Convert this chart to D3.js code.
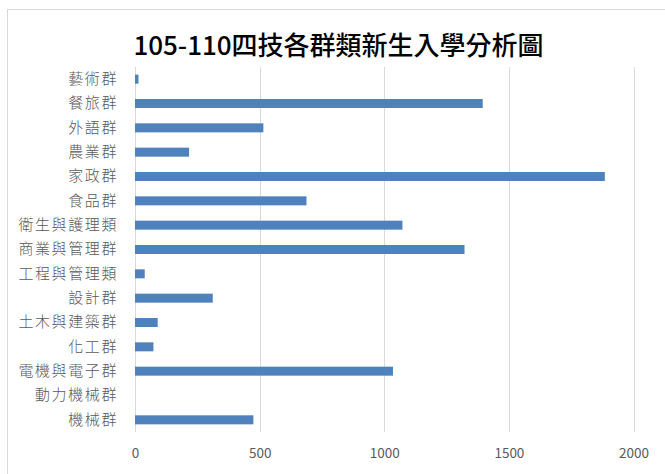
<!DOCTYPE html>
<html>
<head>
<meta charset="utf-8">
<script src="https://cdn.jsdelivr.net/npm/d3@7"></script>
<style>
  body { margin: 0; background: #fff; }
  text { font-family: "Noto Sans CJK TC", "Noto Sans", sans-serif; }
</style>
</head>
<body>
<div id="chart"></div>
<script>
// data
const categories = ["藝術群", "餐旅群", "外語群", "農業群", "家政群", "食品群", "衛生與護理類",
  "商業與管理群", "工程與管理類", "設計群", "土木與建築群", "化工群", "電機與電子群", "動力機械群", "機械群"];
const students = [14, 1395, 515, 217, 1885, 688, 1073, 1322, 39, 312, 91, 74, 1035, 0, 475];
const xTicks = [0, 500, 1000, 1500, 2000];
const title = "105-110四技各群類新生入學分析圖";

const W = 665, H = 474;
const margin = { top: 67, right: 31.5, bottom: 42, left: 135 };
const width = W - margin.left - margin.right;
const height = H - margin.top - margin.bottom;

const svg = d3.select("#chart")
    .append("svg")
    .attr("width", W)
    .attr("height", H);

// chart area border
svg.append("rect")
    .attr("x", 7.5).attr("y", 9.5)
    .attr("width", W).attr("height", H)
    .attr("fill", "none")
    .attr("stroke", "#d9d9d9")
    .attr("stroke-width", 1);

svg.append("text")
    .attr("x", 338.5)
    .attr("y", 55)
    .attr("text-anchor", "middle")
    .attr("font-size", 26)
    .attr("font-weight", 500)
    .attr("fill", "#000")
    .text(title);

const g = svg.append("g")
    .attr("transform", `translate(${margin.left},${margin.top})`);

const x = d3.scaleLinear()
    .domain([0, 2000])
    .range([0, width]);

const y = d3.scaleBand()
    .domain(categories)
    .range([0, height])
    .paddingInner(0.63)
    .paddingOuter(0.315);

// gridlines
g.selectAll(".grid")
    .data(xTicks)
    .enter()
    .append("line")
    .attr("x1", d => Math.round(x(d)) + 0.5)
    .attr("x2", d => Math.round(x(d)) + 0.5)
    .attr("y1", 0)
    .attr("y2", height)
    .attr("stroke", "#d9d9d9")
    .attr("stroke-width", 1);

// bars
g.selectAll(".bar")
    .data(students)
    .enter()
    .append("rect")
    .attr("class", "bar")
    .attr("x", x(0))
    .attr("y", (d, i) => y(categories[i]))
    .attr("width", d => x(d) - x(0))
    .attr("height", y.bandwidth())
    .attr("fill", "#4f81bd");

// x axis
const xAxis = g.append("g")
    .attr("transform", `translate(0,${height})`)
    .call(d3.axisBottom(x).tickValues(xTicks).tickFormat(d3.format("d")).tickSize(0).tickPadding(16));
xAxis.select(".domain").remove();
xAxis.selectAll("text")
    .attr("font-size", 13.5)
    .attr("fill", "#595959");

// y axis
const yAxis = g.append("g")
    .call(d3.axisLeft(y).tickSize(0).tickPadding(17));
yAxis.select(".domain").remove();
yAxis.selectAll("text")
    .attr("font-size", 15)
    .attr("font-weight", 300)
    .attr("letter-spacing", 1.6)
    .attr("fill", "#595959");
</script>
</body>
</html>
